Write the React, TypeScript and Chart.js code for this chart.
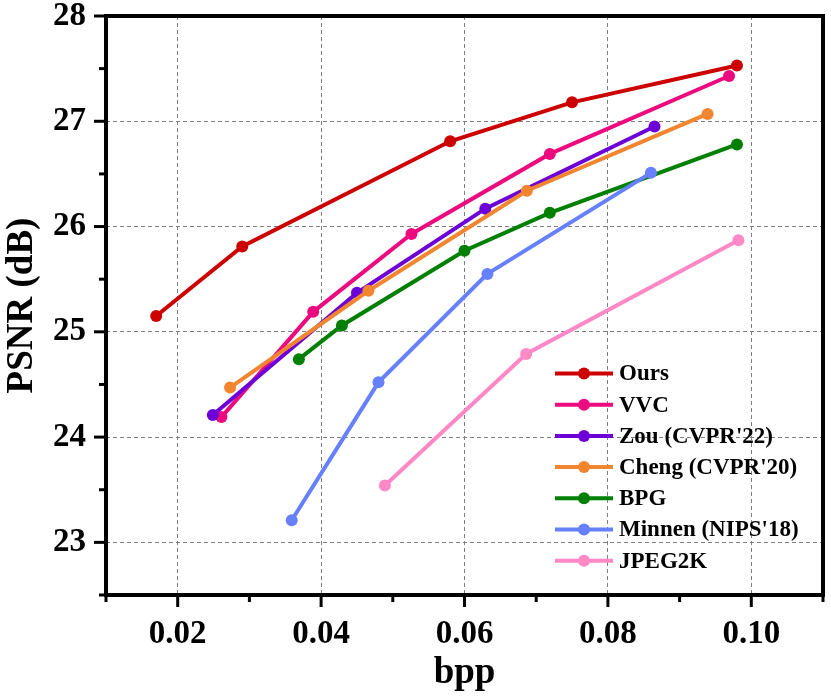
import React, { useEffect, useRef } from "react";
import { Chart, registerables } from "chart.js";

Chart.register(...registerables);

// ---------- data ----------
const seriesNames = ["Ours", "VVC", "Zou (CVPR'22)", "Cheng (CVPR'20)", "BPG", "Minnen (NIPS'18)", "JPEG2K"];
const seriesColors = ["#CC0000", "#EC0A7E", "#6C00D6", "#F28530", "#007F00", "#6680FF", "#FF88C6"];

const oursX = [0.017, 0.029, 0.058, 0.075, 0.098];
const oursY = [25.15, 25.81, 26.81, 27.18, 27.53];
const vvcX = [0.0261, 0.0389, 0.0526, 0.0719, 0.0969];
const vvcY = [24.19, 25.19, 25.93, 26.69, 27.43];
const zouX = [0.0249, 0.045, 0.0629, 0.0865];
const zouY = [24.21, 25.37, 26.17, 26.95];
const chengX = [0.0273, 0.0466, 0.0687, 0.0939];
const chengY = [24.47, 25.39, 26.34, 27.07];
const bpgX = [0.0369, 0.0429, 0.06, 0.0719, 0.098];
const bpgY = [24.74, 25.06, 25.77, 26.13, 26.78];
const minnenX = [0.0359, 0.048, 0.0632, 0.086];
const minnenY = [23.21, 24.52, 25.55, 26.51];
const jpegX = [0.0489, 0.0686, 0.0982];
const jpegY = [23.54, 24.79, 25.87];

const seriesX = [oursX, vvcX, zouX, chengX, bpgX, minnenX, jpegX];
const seriesY = [oursY, vvcY, zouY, chengY, bpgY, minnenY, jpegY];

const xMin = 0.01;
const xMax = 0.11;
const yMin = 22.5;
const yMax = 28;
const xMajorTicks = [0.02, 0.04, 0.06, 0.08, 0.1];
const xMinorTicks = [0.01, 0.03, 0.05, 0.07, 0.09, 0.11];
const yMajorTicks = [23, 24, 25, 26, 27, 28];
const yMinorTicks = [22.5, 23.5, 24.5, 25.5, 26.5, 27.5];

const FONT = "'Liberation Serif', 'Times New Roman', serif";

const isMajorX = (v: number) => xMajorTicks.some((t) => Math.abs(t - v) < 1e-6);
const isMajorY = (v: number) => yMajorTicks.some((t) => Math.abs(t - v) < 1e-6);

const boxPlugin = {
  id: "boxAndTicks",
  afterDraw(chart: any) {
    const { ctx, chartArea, scales } = chart;
    const { left, right, top, bottom } = chartArea;
    const x = scales.x;
    const y = scales.y;
    ctx.save();
    ctx.setLineDash([]);
    ctx.strokeStyle = "#000";
    ctx.lineCap = "butt";
    ctx.lineWidth = 3;
    xMajorTicks.forEach((v) => {
      const p = x.getPixelForValue(v);
      ctx.beginPath();
      ctx.moveTo(p, bottom);
      ctx.lineTo(p, bottom + 12);
      ctx.stroke();
    });
    xMinorTicks.forEach((v) => {
      const p = x.getPixelForValue(v);
      ctx.beginPath();
      ctx.moveTo(p, bottom);
      ctx.lineTo(p, bottom + 7);
      ctx.stroke();
    });
    yMajorTicks.forEach((v) => {
      const p = y.getPixelForValue(v);
      ctx.beginPath();
      ctx.moveTo(left, p);
      ctx.lineTo(left - 12, p);
      ctx.stroke();
    });
    yMinorTicks.forEach((v) => {
      const p = y.getPixelForValue(v);
      ctx.beginPath();
      ctx.moveTo(left, p);
      ctx.lineTo(left - 7, p);
      ctx.stroke();
    });
    ctx.lineWidth = 4;
    ctx.strokeRect(left, top, right - left, bottom - top);
    ctx.restore();
  },
};

const legendPlugin = {
  id: "insideLegend",
  afterDraw(chart: any) {
    const { ctx } = chart;
    const x0 = 555;
    const x1 = 613;
    const y0 = 373.5;
    const step = 31.2;
    ctx.save();
    ctx.setLineDash([]);
    ctx.font = `bold 23px ${FONT}`;
    ctx.textBaseline = "middle";
    ctx.textAlign = "left";
    chart.data.datasets.forEach((ds: any, i: number) => {
      const yy = y0 + i * step;
      ctx.strokeStyle = ds.borderColor;
      ctx.lineWidth = 4;
      ctx.beginPath();
      ctx.moveTo(x0, yy);
      ctx.lineTo(x1, yy);
      ctx.stroke();
      ctx.fillStyle = ds.borderColor;
      ctx.beginPath();
      ctx.arc((x0 + x1) / 2, yy, 6, 0, Math.PI * 2);
      ctx.fill();
      ctx.fillStyle = "#000";
      ctx.fillText(ds.label, 619, yy + 1);
    });
    ctx.restore();
  },
};

export default function App() {
  const canvasRef = useRef<HTMLCanvasElement | null>(null);

  useEffect(() => {
    document.body.style.margin = "0";
    const canvas = canvasRef.current;
    if (!canvas) return;
    const datasets = seriesNames.map((name, i) => ({
      label: name,
      data: seriesX[i].map((xv, j) => ({ x: xv, y: seriesY[i][j] })),
      borderColor: seriesColors[i],
      backgroundColor: seriesColors[i],
      pointBackgroundColor: seriesColors[i],
      pointBorderWidth: 0,
      pointRadius: 6,
      borderWidth: 4,
      tension: 0,
      fill: false,
      order: 10 - i,
    }));
    const gridColor = "#808080";
    const chart = new Chart(canvas, {
      type: "line",
      data: { datasets },
      plugins: [boxPlugin, legendPlugin],
      options: {
        responsive: false,
        animation: false,
        devicePixelRatio: 1,
        layout: { padding: { top: 16, right: 8, left: 0, bottom: 0 } },
        plugins: { legend: { display: false }, tooltip: { enabled: false } },
        scales: {
          x: {
            type: "linear",
            min: xMin,
            max: xMax,
            border: { display: false, dash: [4, 3] },
            afterFit: (s: any) => {
              s.height = 104;
              s.paddingLeft = 0;
              s.paddingRight = 0;
            },
            grid: {
              drawTicks: true,
              tickLength: 12,
              tickColor: "transparent",
              lineWidth: 1,
              color: (c: any) => {
                const v = c.tick ? c.tick.value : NaN;
                return isMajorX(v) ? gridColor : "transparent";
              },
              borderDash: [4, 3],
            },
            ticks: {
              stepSize: 0.01,
              autoSkip: false,
              maxRotation: 0,
              padding: 8,
              color: "#000",
              font: { family: FONT, size: 33, weight: "bold" },
              callback: (v: any) => (isMajorX(Number(v)) ? Number(v).toFixed(2) : ""),
            },
            title: {
              display: true,
              text: "bpp",
              color: "#000",
              font: { family: FONT, size: 37, weight: "bold" },
              padding: { top: 0, bottom: 3 },
            },
          },
          y: {
            type: "linear",
            min: yMin,
            max: yMax,
            border: { display: false, dash: [4, 3] },
            afterFit: (s: any) => {
              s.width = 106;
              s.paddingTop = 0;
              s.paddingBottom = 0;
            },
            grid: {
              drawTicks: true,
              tickLength: 10,
              tickColor: "transparent",
              lineWidth: 1,
              color: (c: any) => {
                const v = c.tick ? c.tick.value : NaN;
                return isMajorY(v) && v < yMax ? gridColor : "transparent";
              },
              borderDash: [4, 3],
            },
            ticks: {
              stepSize: 0.5,
              autoSkip: false,
              padding: 10,
              color: "#000",
              font: { family: FONT, size: 33, weight: "bold" },
              callback: (v: any) => (isMajorY(Number(v)) ? String(Math.round(Number(v))) : ""),
            },
            title: {
              display: true,
              text: "PSNR (dB)",
              color: "#000",
              font: { family: FONT, size: 37, weight: "bold" },
              padding: { top: 0, bottom: 0 },
            },
          },
        },
      },
    } as any);
    return () => chart.destroy();
  }, []);

  return (
    <div style={{ position: "relative", width: 831, height: 699, background: "#fff" }}>
      <canvas ref={canvasRef} width={831} height={699} style={{ display: "block", width: 831, height: 699 }} />
    </div>
  );
}
